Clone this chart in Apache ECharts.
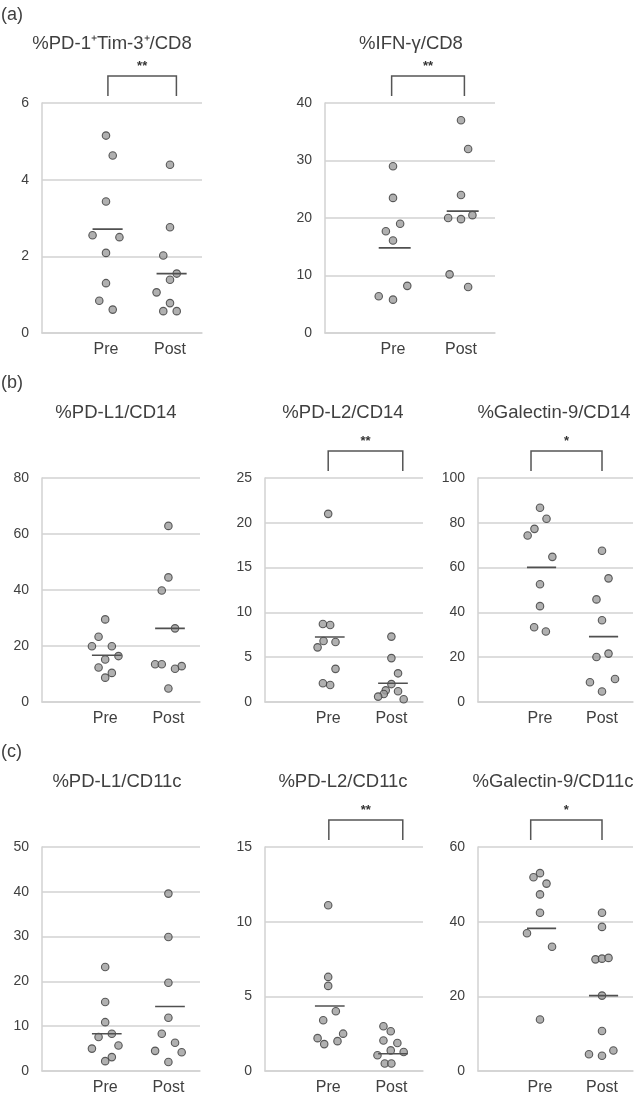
<!DOCTYPE html>
<html><head><meta charset="utf-8">
<script src="https://cdn.jsdelivr.net/npm/echarts@6/dist/echarts.min.js"></script>
<style>html,body{margin:0;padding:0;background:#fff}#c{width:638px;height:1100px}</style>
</head><body><div id="c"></div>
<script>
// ---------- data ----------
const groups = ['Pre', 'Post'];
const panelTitles = ['%PD-1\u207ATim-3\u207A/CD8', '%IFN-\u03B3/CD8', '%PD-L1/CD14', '%PD-L2/CD14', '%Galectin-9/CD14', '%PD-L1/CD11c', '%PD-L2/CD11c', '%Galectin-9/CD11c'];
const panelLetters = ['(a)', '(b)', '(c)'];
const yMaxes = [6, 40, 80, 25, 100, 50, 15, 60];
const yIntervals = [2, 10, 20, 5, 20, 10, 5, 20];
const significance = ['**', '**', '', '**', '*', '', '**', '*'];

// values and horizontal jitter slots (dot-plot offsets)
const a1Pre = [5.15, 4.63, 3.43, 2.55, 2.50, 2.09, 1.30, 0.84, 0.61];
const a1PreJ = [0, 1, 0, -2, 2, 0, 0, -1, 1];
const a1Post = [4.39, 2.76, 2.02, 1.55, 1.39, 1.06, 0.78, 0.57, 0.57];
const a1PostJ = [0, 0, -1, 1, 0, -2, 0, -1, 1];
const a1Means = [2.71, 1.55];

const a2Pre = [29.0, 23.5, 19.0, 17.7, 16.1, 8.2, 6.4, 5.8];
const a2PreJ = [0, 0, 1, -1, 0, 2, -2, 0];
const a2Post = [37.0, 32.0, 24.0, 20.0, 19.8, 20.5, 10.2, 8.0];
const a2PostJ = [0, 1, 0, -1.8, 0, 1.6, -1.6, 1];
const a2Means = [14.8, 21.2];

const b1Pre = [29.5, 23.3, 19.9, 19.9, 16.4, 15.2, 12.3, 10.4, 8.7];
const b1PreJ = [0, -1, -2, 1, 2, 0, -1, 1, 0];
const b1Post = [62.9, 44.5, 39.8, 26.3, 13.5, 13.5, 12.8, 11.9, 4.8];
const b1PostJ = [0, 0, -1, 1, -2, -1, 2, 1, 0];
const b1Means = [16.7, 26.3];

const b2Pre = [21.0, 8.7, 8.6, 6.1, 6.8, 6.7, 3.7, 2.1, 1.9];
const b2PreJ = [0, -0.8, 0.3, -1.6, -0.7, 1.1, 1.1, -0.8, 0.3];
const b2Post = [7.3, 4.9, 3.2, 2.0, 1.3, 1.2, 0.9, 0.6, 0.3];
const b2PostJ = [0, 0, 1, 0, -0.85, 1, -1.15, -2, 1.85];
const b2Means = [7.25, 2.1];

const b3Pre = [86.7, 81.8, 77.3, 74.3, 64.8, 52.6, 42.8, 33.4, 31.5];
const b3PreJ = [0, 1, -0.85, -1.9, 1.9, 0, 0, -0.9, 0.9];
const b3Post = [67.5, 55.2, 45.8, 36.5, 21.6, 20.1, 10.3, 8.8, 4.7];
const b3PostJ = [0, 1, -0.85, 0, 1, -0.85, 2, -1.85, 0];
const b3Means = [60.1, 29.2];

const c1Pre = [23.2, 15.4, 10.9, 8.3, 7.6, 5.7, 5.0, 3.1, 2.2];
const c1PreJ = [0, 0, 0, 1, -1, 2, -2, 1, 0];
const c1Post = [39.6, 29.9, 19.7, 11.9, 8.3, 6.3, 4.2, 4.5, 2.0];
const c1PostJ = [0, 0, 0, 0, -1, 1, 2, -2, 0];
const c1Means = [8.3, 14.4];

const c2Pre = [11.1, 6.3, 5.7, 4.0, 3.4, 2.2, 1.8, 2.0, 2.5];
const c2PreJ = [0, 0, 0, 1.15, -0.75, -1.6, -0.6, 1.4, 2.25];
const c2Post = [3.0, 2.66, 2.04, 1.87, 1.38, 1.05, 1.27, 0.5, 0.5];
const c2PostJ = [-1.2, -0.1, -1.2, 0.9, -0.1, -2.1, 1.85, -1, 0];
const c2Means = [4.35, 1.16];

const c3Pre = [53.0, 51.9, 50.2, 47.3, 42.4, 36.9, 33.3, 13.8];
const c3PreJ = [0, -1, 1, 0, 0, -2, 1.85, 0];
const c3Post = [42.4, 38.6, 29.9, 30.1, 30.3, 20.2, 10.7, 4.5, 4.1, 5.5];
const c3PostJ = [0, 0, -1, 0, 1, 0, 0, -2, 0, 1.75];
const c3Means = [38.2, 20.2];

// ---------- layout ----------
const grids = [
  {left: 42, top: 103, width: 160, height: 230},
  {left: 325, top: 103, width: 170, height: 230},
  {left: 42, top: 478, width: 158, height: 224},
  {left: 265, top: 478, width: 158, height: 224},
  {left: 478, top: 478, width: 155, height: 224},
  {left: 42, top: 847, width: 158, height: 224},
  {left: 265, top: 847, width: 158, height: 224},
  {left: 478, top: 847, width: 155, height: 224}
];
const titlePos = [[112, 44], [411, 44], [116, 413], [343, 413], [554, 413], [117, 782], [343, 782], [553, 782]];
const letterPos = [[1, 15], [1, 383], [1, 752]];
const bracketX = [[1.03, 2.1], [0.98, 2.05], null, [1.0, 2.18], [0.855, 2.0], null, [1.01, 2.18], [0.85, 2.0]];
const JSTEP = 0.105;

const pre = [a1Pre, a2Pre, b1Pre, b2Pre, b3Pre, c1Pre, c2Pre, c3Pre];
const preJ = [a1PreJ, a2PreJ, b1PreJ, b2PreJ, b3PreJ, c1PreJ, c2PreJ, c3PreJ];
const post = [a1Post, a2Post, b1Post, b2Post, b3Post, c1Post, c2Post, c3Post];
const postJ = [a1PostJ, a2PostJ, b1PostJ, b2PostJ, b3PostJ, c1PostJ, c2PostJ, c3PostJ];
const means = [a1Means, a2Means, b1Means, b2Means, b3Means, c1Means, c2Means, c3Means];

const FONT = '"Liberation Sans", Arial, Helvetica, sans-serif';
const TXT = '#404040';
const GRIDC = '#d2d2d2';

const option = {
  animation: false,
  backgroundColor: '#fff',
  grid: [], xAxis: [], yAxis: [], series: [], graphic: []
};

grids.forEach((g, i) => {
  option.grid.push(Object.assign({containLabel: false}, g));
  option.xAxis.push({
    type: 'value', gridIndex: i, min: 0, max: 2.5, interval: 1,
    axisLine: {show: true, lineStyle: {color: GRIDC, width: 1.5}},
    axisTick: {show: false}, splitLine: {show: false},
    axisLabel: {
      margin: 9, color: TXT, fontSize: 16, fontFamily: FONT,
      showMaxLabel: false, showMinLabel: false,
      formatter: v => (v === 1 ? groups[0] : v === 2 ? groups[1] : '')
    }
  });
  option.yAxis.push({
    type: 'value', gridIndex: i, min: 0, max: yMaxes[i], interval: yIntervals[i],
    axisLine: {show: true, lineStyle: {color: GRIDC, width: 1.5}},
    axisTick: {show: false},
    splitLine: {show: true, lineStyle: {color: GRIDC, width: 1.5}},
    axisLabel: {margin: 13, color: TXT, fontSize: 14, fontFamily: FONT}
  });
  const dot = {color: '#9c9c9c', borderColor: '#383838', borderWidth: 1.1};
  option.series.push({
    type: 'scatter', xAxisIndex: i, yAxisIndex: i, symbolSize: 7.5, itemStyle: dot, z: 3,
    data: pre[i].map((v, k) => [1 + preJ[i][k] * JSTEP, v])
  });
  option.series.push({
    type: 'scatter', xAxisIndex: i, yAxisIndex: i, symbolSize: 7.5, itemStyle: dot, z: 3,
    data: post[i].map((v, k) => [2 + postJ[i][k] * JSTEP, v])
  });
  means[i].forEach((m, k) => {
    option.series.push({
      type: 'line', xAxisIndex: i, yAxisIndex: i, symbol: 'none', z: 4, silent: true,
      lineStyle: {color: '#505050', width: 1.6},
      data: [[k + 1 - 0.21, m], [k + 1 + 0.26, m]]
    });
  });
  option.graphic.push({
    type: 'text', x: titlePos[i][0], y: titlePos[i][1],
    style: {text: panelTitles[i], fill: TXT, font: '18.5px ' + FONT,
      align: 'center', verticalAlign: 'middle', textAlign: 'center', textVerticalAlign: 'middle'}
  });
});
panelLetters.forEach((t, i) => {
  option.graphic.push({
    type: 'text', x: letterPos[i][0], y: letterPos[i][1],
    style: {text: t, fill: TXT, font: '18px ' + FONT,
      align: 'left', verticalAlign: 'middle', textAlign: 'left', textVerticalAlign: 'middle'}
  });
});

const chart = echarts.init(document.getElementById('c'), null, {renderer: 'canvas'});
chart.setOption(option);

// significance brackets, placed with the axes' own scales
const extra = option.graphic.slice();
grids.forEach((g, i) => {
  if (!significance[i] || !bracketX[i]) return;
  const p1 = chart.convertToPixel({gridIndex: i}, [bracketX[i][0], yMaxes[i]]);
  const p2 = chart.convertToPixel({gridIndex: i}, [bracketX[i][1], yMaxes[i]]);
  const top = p1[1];
  const barY = top - 27, legY = top - 7;
  extra.push({
    type: 'polyline', silent: true,
    shape: {points: [[p1[0], legY], [p1[0], barY], [p2[0], barY], [p2[0], legY]]},
    style: {stroke: '#555', lineWidth: 1.5, fill: null}
  });
  extra.push({
    type: 'text', x: (p1[0] + p2[0]) / 2, y: top - 37,
    style: {text: significance[i], fill: '#333', font: 'bold 13px ' + FONT,
      align: 'center', verticalAlign: 'middle', textAlign: 'center', textVerticalAlign: 'middle'}
  });
});
chart.setOption({graphic: extra}, {replaceMerge: ['graphic']});
</script>
</body></html>
